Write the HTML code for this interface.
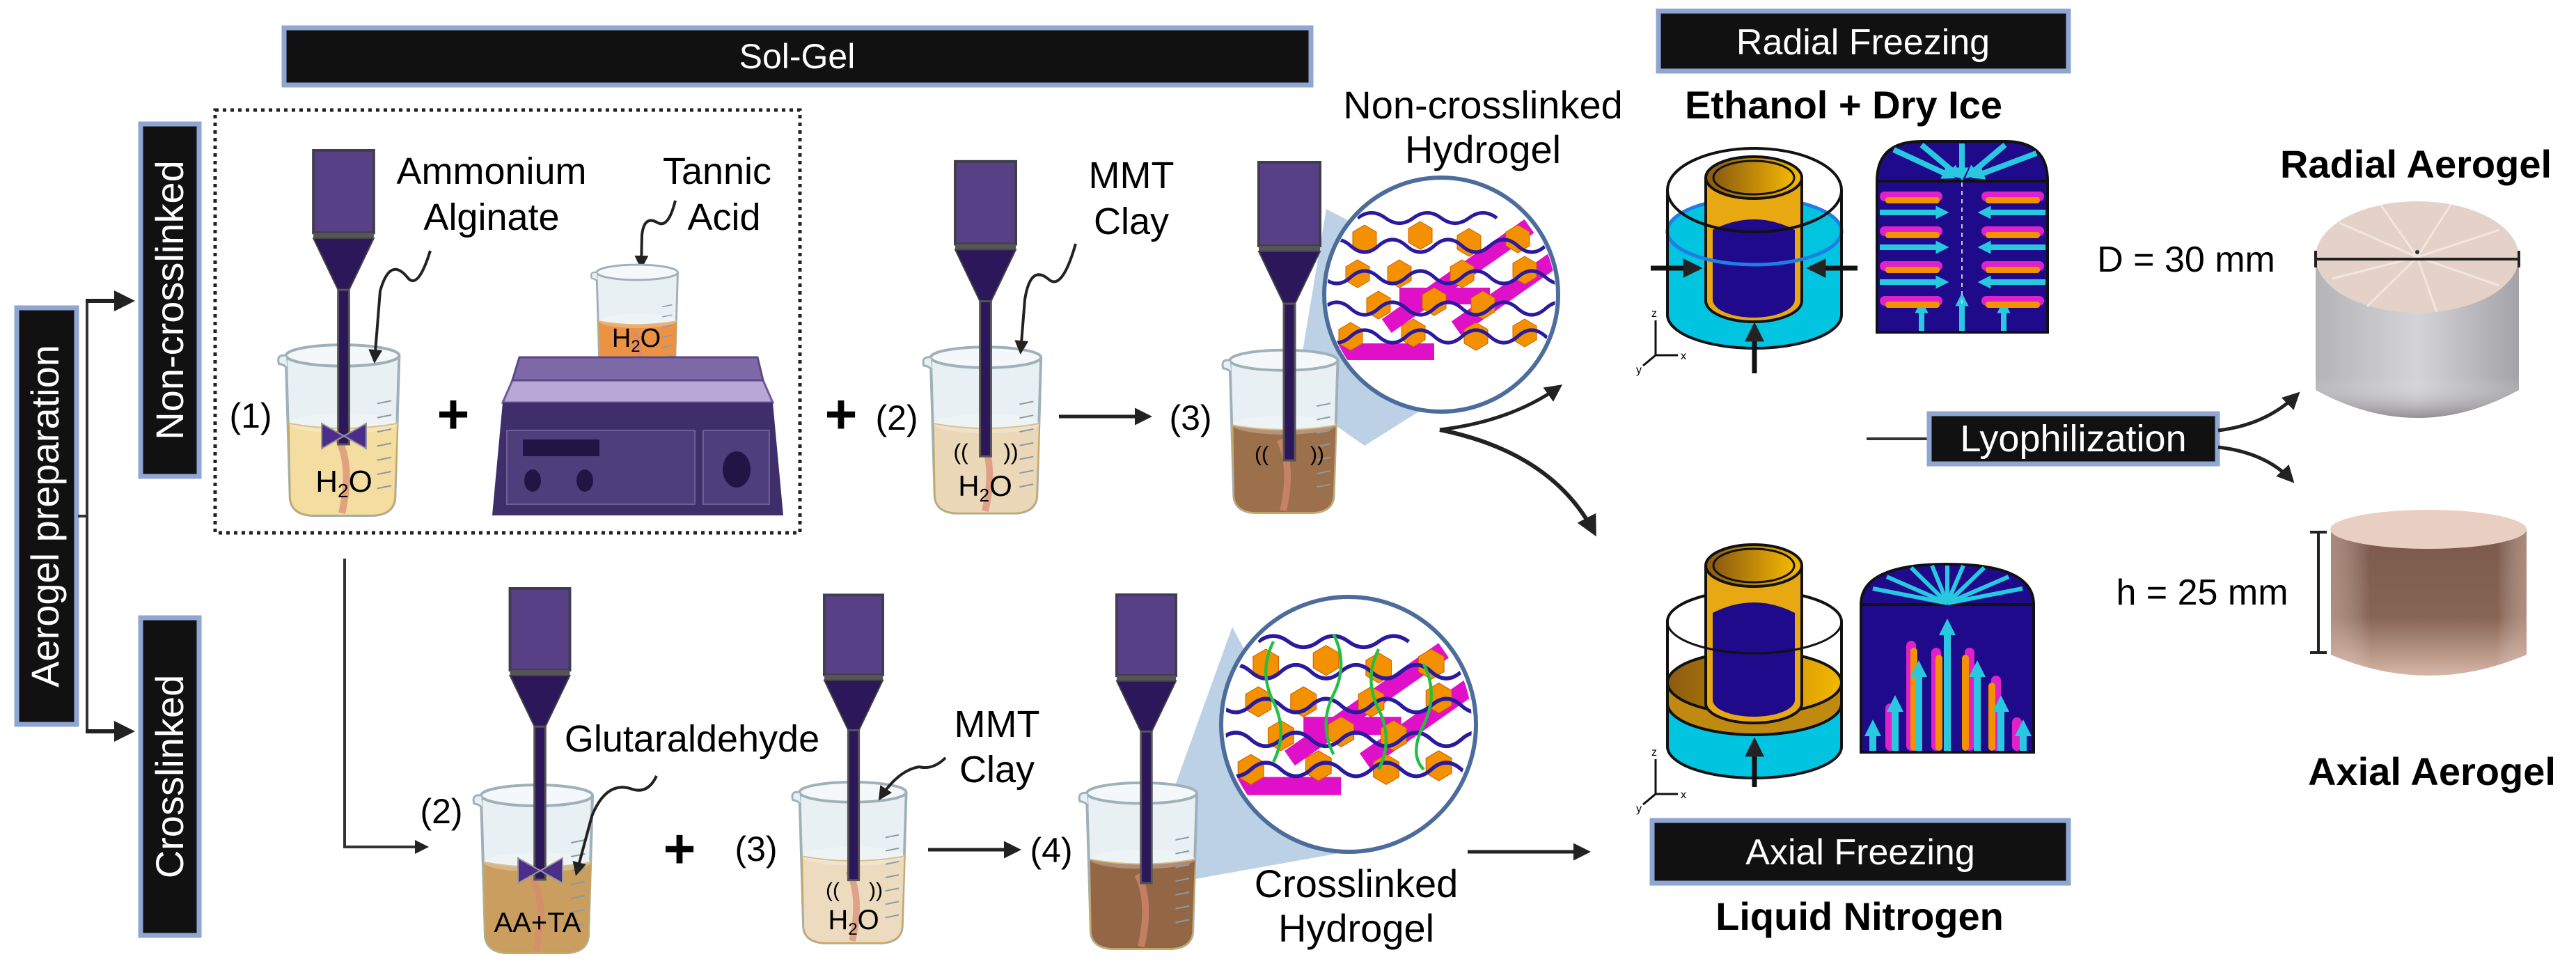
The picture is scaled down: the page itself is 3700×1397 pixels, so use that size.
<!DOCTYPE html>
<html><head><meta charset="utf-8"><style>
html,body{margin:0;padding:0;background:#fff}
svg{display:block}
text{font-family:"Liberation Sans",sans-serif}
</style></head><body>
<svg width="3700" height="1397" viewBox="0 0 3700 1397" xmlns="http://www.w3.org/2000/svg">
<defs>
<linearGradient id="gold" x1="0" x2="1"><stop offset="0" stop-color="#8a5a10"/><stop offset="1" stop-color="#f5b800"/></linearGradient>
<linearGradient id="gray" x1="0" x2="1"><stop offset="0" stop-color="#b4b4b8"/><stop offset=".5" stop-color="#d4d4d8"/><stop offset="1" stop-color="#a4a4a8"/></linearGradient>
<linearGradient id="grayv" x1="0" y1="0" x2="0" y2="1"><stop offset="0" stop-color="#fff" stop-opacity="0"/><stop offset=".75" stop-color="#fff" stop-opacity="0"/><stop offset="1" stop-color="#6a6264" stop-opacity=".6"/></linearGradient>
<linearGradient id="brn" x1="0" y1="0" x2="0" y2="1"><stop offset="0" stop-color="#7a5a4c"/><stop offset=".6" stop-color="#876454"/><stop offset="1" stop-color="#d6b6a6"/></linearGradient>
<linearGradient id="brnh" x1="0" x2="1"><stop offset="0" stop-color="#d8b8a8" stop-opacity=".5"/><stop offset=".2" stop-color="#fff" stop-opacity="0"/><stop offset=".85" stop-color="#fff" stop-opacity="0"/><stop offset="1" stop-color="#d8b8a8" stop-opacity=".5"/></linearGradient>
<symbol id="bk" viewBox="0 0 190 250" overflow="visible">
 <path d="M16,24 L22,224 Q24,246 52,248 L140,248 Q168,246 170,224 L176,24 Z" fill="#e8f0f3" stroke="#9fb0b8" stroke-width="4"/>
 <path d="M20,118 Q96,132 174,118 L170,224 Q168,246 140,248 L52,248 Q24,246 22,224 Z" fill="currentColor" stroke="#c9a860" stroke-width="2" opacity=".95"/>
 <ellipse cx="97" cy="118" rx="77" ry="14" fill="#fff" opacity=".25"/>
 <ellipse cx="96" cy="22" rx="80" ry="15" fill="#f4f8fa" stroke="#9fb0b8" stroke-width="4"/>
 <path d="M16,22 Q2,20 6,34 Q12,34 18,40" fill="#e8f0f3" stroke="#9fb0b8" stroke-width="3"/>
 <g stroke="#8a9aa3" stroke-width="2"><line x1="145" y1="90" x2="165" y2="86"/><line x1="145" y1="110" x2="165" y2="106"/><line x1="145" y1="130" x2="165" y2="126"/><line x1="145" y1="150" x2="165" y2="146"/><line x1="145" y1="170" x2="165" y2="166"/><line x1="145" y1="190" x2="165" y2="186"/><line x1="145" y1="210" x2="165" y2="206"/></g>
 <path d="M90,140 Q110,180 95,245" stroke="#d88a70" stroke-width="10" fill="none" opacity=".7"/>
</symbol>
<symbol id="st" viewBox="0 0 92 430" overflow="visible">
 <rect x="2" y="2" width="88" height="120" fill="#574086" stroke="#3e3e4e" stroke-width="4"/>
 <rect x="2" y="122" width="88" height="8" fill="#555"/>
 <polygon points="2,130 90,130 54,205 38,205" fill="#2b1759" stroke="#444" stroke-width="2"/>
 <rect x="38" y="205" width="16" height="225" fill="#2b1759" stroke="#555" stroke-width="3"/>
</symbol>
<polygon id="hx" points="0,-20 17,-10 17,10 0,20 -17,10 -17,-10" fill="#f39100" stroke="#d06000" stroke-width="1"/>
<clipPath id="c1"><circle cx="0" cy="0" r="164"/></clipPath>
<g id="gel">
 <g clip-path="url(#c1)">
 <rect x="-150" y="70" width="140" height="24" fill="#e010c8"/>
 <rect x="-60" y="-10" width="130" height="24" fill="#e010c8"/>
 <rect x="-90" y="-20" width="250" height="24" fill="#e010c8" transform="rotate(-35)"/>
 <rect x="-10" y="40" width="230" height="24" fill="#e010c8" transform="rotate(-35)"/>
 <use href="#hx" x="-110" y="-80"/><use href="#hx" x="-30" y="-85"/><use href="#hx" x="40" y="-75"/><use href="#hx" x="110" y="-80"/>
 <use href="#hx" x="-120" y="-30"/><use href="#hx" x="-60" y="-30"/><use href="#hx" x="30" y="-30"/><use href="#hx" x="120" y="-35"/>
 <use href="#hx" x="-90" y="15"/><use href="#hx" x="-10" y="10"/><use href="#hx" x="60" y="15"/>
 <use href="#hx" x="-130" y="60"/><use href="#hx" x="-40" y="55"/><use href="#hx" x="50" y="60"/><use href="#hx" x="120" y="55"/>
 <g stroke="#2a1aa0" stroke-width="5" fill="none">
 <path d="M-170,-70 q20,-18 40,0 t40,0 t40,0 t40,0 t40,0 t40,0 t40,0 t40,0 t40,0"/>
 <path d="M-170,-25 q20,18 40,0 t40,0 t40,0 t40,0 t40,0 t40,0 t40,0 t40,0 t40,0"/>
 <path d="M-170,20 q20,-18 40,0 t40,0 t40,0 t40,0 t40,0 t40,0 t40,0 t40,0 t40,0"/>
 <path d="M-170,60 q20,18 40,0 t40,0 t40,0 t40,0 t40,0 t40,0 t40,0 t40,0 t40,0"/>
 <path d="M-120,-110 q20,-15 40,0 t40,0 t40,0 t40,0 t40,0"/>
 </g>
 </g>
</g>
<marker id="ah" viewBox="0 0 10 10" refX="8" refY="5" markerWidth="5" markerHeight="5" orient="auto"><path d="M0,0 L10,5 L0,10 Z" fill="#222"/></marker>
<marker id="ah2" viewBox="0 0 10 10" refX="8" refY="5" markerWidth="4" markerHeight="4" orient="auto"><path d="M0,0 L10,5 L0,10 Z" fill="#222"/></marker>
<marker id="ca" viewBox="0 0 10 10" refX="5" refY="5" markerWidth="2.4" markerHeight="2.4" orient="auto"><path d="M0,0 L10,5 L0,10 Z" fill="#28c8e0"/></marker>
</defs>

<!-- Sol-Gel bar -->
<rect x="408" y="40" width="1475" height="82" fill="#111" stroke="#8fa6d2" stroke-width="7"/>
<text x="1145" y="98" font-size="50" fill="#fff" text-anchor="middle">Sol-Gel</text>

<!-- left bracket boxes -->
<rect x="24" y="442" width="86" height="598" fill="#111" stroke="#8fa6d2" stroke-width="7"/>
<text transform="translate(84,741) rotate(-90)" font-size="56" fill="#fff" text-anchor="middle">Aerogel preparation</text>
<rect x="202" y="178" width="84" height="506" fill="#111" stroke="#8fa6d2" stroke-width="7"/>
<text transform="translate(263,431) rotate(-90)" font-size="56" fill="#fff" text-anchor="middle">Non-crosslinked</text>
<rect x="202" y="887" width="84" height="456" fill="#111" stroke="#8fa6d2" stroke-width="7"/>
<text transform="translate(263,1115) rotate(-90)" font-size="56" fill="#fff" text-anchor="middle">Crosslinked</text>
<path d="M112,741 H125 M125,432 V1050" stroke="#333" stroke-width="4" fill="none"/>
<line x1="123" y1="432" x2="188" y2="432" stroke="#222" stroke-width="6" marker-end="url(#ah)"/>
<line x1="123" y1="1050" x2="188" y2="1050" stroke="#222" stroke-width="6" marker-end="url(#ah)"/>

<!-- dotted box -->
<rect x="309" y="158" width="840" height="607" fill="none" stroke="#222" stroke-width="5" stroke-dasharray="5,6"/>

<!-- beaker 1 -->
<use href="#bk" x="394" y="488" width="194" height="254" style="color:#f5dd9c"/>
<use href="#st" x="448" y="214" width="91" height="424"/>
<polygon points="462,608 494,626 462,644" fill="#4a2e8a" stroke="#999" stroke-width="2"/><polygon points="526,608 494,626 526,644" fill="#4a2e8a" stroke="#999" stroke-width="2"/>
<text x="494" y="706" font-size="44" text-anchor="middle">H<tspan font-size="28" dy="8">2</tspan><tspan dy="-8">O</tspan></text>
<text x="360" y="614" font-size="50" text-anchor="middle">(1)</text>
<text x="706" y="264" font-size="54" text-anchor="middle">Ammonium</text>
<text x="706" y="330" font-size="54" text-anchor="middle">Alginate</text>
<path d="M618,360 Q600,418 585,398 Q560,368 546,418 L538,518" stroke="#222" stroke-width="4" fill="none" marker-end="url(#ah)"/>
<text x="1030" y="264" font-size="54" text-anchor="middle">Tannic</text>
<text x="1040" y="330" font-size="54" text-anchor="middle">Acid</text>
<path d="M970,288 Q960,328 945,320 Q925,308 922,338 L921,383" stroke="#222" stroke-width="4" fill="none" marker-end="url(#ah)"/>

<!-- hotplate -->
<use href="#bk" x="845" y="375" width="139" height="182" style="color:#ec8e3c"/>
<text x="914" y="498" font-size="38" text-anchor="middle">H<tspan font-size="24" dy="7">2</tspan><tspan dy="-7">O</tspan></text>
<polygon points="736,546 1096,546 1110,578 722,578" fill="#b8a8d8" stroke="#6d5a98" stroke-width="3"/>
<polygon points="746,513 1088,513 1096,546 736,546" fill="#7f6aa8" stroke="#5b4888" stroke-width="3"/>
<polygon points="722,578 1110,578 1125,740 707,740" fill="#3e2f6a"/>
<rect x="728" y="618" width="270" height="106" fill="#4e3f7c" stroke="#6d5e98" stroke-width="2"/>
<rect x="1010" y="618" width="95" height="106" fill="#4e3f7c" stroke="#6d5e98" stroke-width="2"/>
<rect x="751" y="631" width="110" height="24" fill="#221545"/>
<ellipse cx="765" cy="690" rx="12" ry="16" fill="#221545"/><ellipse cx="840" cy="690" rx="12" ry="16" fill="#221545"/>
<ellipse cx="1058" cy="674" rx="20" ry="26" fill="#221545"/>
<text x="651" y="622" font-size="80" font-weight="bold" text-anchor="middle">+</text>
<text x="1208" y="622" font-size="80" font-weight="bold" text-anchor="middle">+</text>

<!-- beaker top 2 -->
<use href="#bk" x="1321" y="491" width="188" height="248" style="color:#ecd7b6"/>
<use href="#st" x="1370" y="225" width="91" height="435"/>
<text x="1415" y="712" font-size="42" text-anchor="middle">H<tspan font-size="26" dy="8">2</tspan><tspan dy="-8">O</tspan></text>
<text x="1380" y="660" font-size="32" text-anchor="middle">((</text><text x="1452" y="660" font-size="32" text-anchor="middle">))</text>
<text x="1288" y="617" font-size="50" text-anchor="middle">(2)</text>
<text x="1625" y="270" font-size="54" text-anchor="middle">MMT</text>
<text x="1625" y="336" font-size="54" text-anchor="middle">Clay</text>
<path d="M1545,350 Q1525,420 1505,400 Q1480,380 1472,430 L1466,505" stroke="#222" stroke-width="4" fill="none" marker-end="url(#ah)"/>
<line x1="1521" y1="598" x2="1650" y2="598" stroke="#222" stroke-width="5" marker-end="url(#ah)"/>
<text x="1710" y="617" font-size="50" text-anchor="middle">(3)</text>

<!-- beaker top 3 -->
<polygon points="1860,570 1905,300 2230,470 1960,640" fill="#a6c2dc" opacity=".75"/>
<use href="#bk" x="1751" y="495" width="184" height="244" style="color:#9a6a44"/>
<use href="#st" x="1806" y="225" width="92" height="442"/>
<text x="1812" y="662" font-size="30" text-anchor="middle">((</text><text x="1892" y="662" font-size="30" text-anchor="middle">))</text>
<circle cx="2070" cy="423" r="168" fill="#fff" stroke="#4c6c9c" stroke-width="6"/>
<use href="#gel" transform="translate(2070,423)"/>
<text x="2130" y="170" font-size="56" text-anchor="middle">Non-crosslinked</text>
<text x="2130" y="234" font-size="56" text-anchor="middle">Hydrogel</text>
<path d="M2068,617 Q2170,605 2240,555" stroke="#222" stroke-width="5" fill="none" marker-end="url(#ah)"/>
<path d="M2068,617 Q2230,650 2290,765" stroke="#222" stroke-width="6" fill="none" marker-end="url(#ah)"/>

<!-- bottom row -->
<path d="M495,802 V1216 H612" stroke="#333" stroke-width="4" fill="none" marker-end="url(#ah)"/>
<use href="#bk" x="673" y="1120" width="194" height="250" style="color:#c99a58"/>
<use href="#st" x="730" y="843" width="91" height="420"/>
<polygon points="744,1232 776,1250 744,1268" fill="#4a2e8a" stroke="#999" stroke-width="2"/><polygon points="808,1232 776,1250 808,1268" fill="#4a2e8a" stroke="#999" stroke-width="2"/>
<text x="772" y="1338" font-size="40" text-anchor="middle">AA+TA</text>
<text x="634" y="1182" font-size="50" text-anchor="middle">(2)</text>
<text x="994" y="1079" font-size="54" text-anchor="middle">Glutaraldehyde</text>
<path d="M943,1114 Q930,1142 905,1132 Q870,1122 850,1172 L828,1254" stroke="#222" stroke-width="4" fill="none" marker-end="url(#ah)"/>
<text x="976" y="1246" font-size="80" font-weight="bold" text-anchor="middle">+</text>
<text x="1086" y="1236" font-size="50" text-anchor="middle">(3)</text>
<use href="#bk" x="1133" y="1110" width="182" height="252" style="color:#eddabc"/>
<use href="#st" x="1182" y="843" width="88" height="430"/>
<text x="1226" y="1334" font-size="40" text-anchor="middle">H<tspan font-size="24" dy="8">2</tspan><tspan dy="-8">O</tspan></text>
<text x="1196" y="1288" font-size="30" text-anchor="middle">((</text><text x="1258" y="1288" font-size="30" text-anchor="middle">))</text>
<text x="1432" y="1058" font-size="54" text-anchor="middle">MMT</text>
<text x="1432" y="1123" font-size="54" text-anchor="middle">Clay</text>
<path d="M1358,1088 Q1340,1106 1320,1101 Q1290,1106 1264,1146" stroke="#222" stroke-width="4" fill="none" marker-end="url(#ah)"/>
<line x1="1333" y1="1220" x2="1462" y2="1220" stroke="#222" stroke-width="5" marker-end="url(#ah)"/>
<text x="1510" y="1238" font-size="50" text-anchor="middle">(4)</text>
<polygon points="1660,1205 1770,900 1940,1222 1700,1265" fill="#a6c2dc" opacity=".75"/>
<use href="#bk" x="1545" y="1117" width="188" height="247" style="color:#8f5f3c"/>
<use href="#st" x="1602" y="845" width="89" height="430"/>
<circle cx="1937" cy="1040" r="183" fill="#fff" stroke="#4c6c9c" stroke-width="6"/>
<g transform="translate(1937,1040) scale(1.08)">
<use href="#gel"/>
<g stroke="#22c040" stroke-width="4" fill="none"><path d="M-100,-110 q-20,40 0,80 t0,80"/><path d="M-20,-120 q20,40 0,80 t0,80"/><path d="M40,-100 q-20,40 0,80 t0,80"/><path d="M100,-80 q20,40 0,80 t0,60"/></g>
</g>
<text x="1948" y="1288" font-size="56" text-anchor="middle">Crosslinked</text>
<text x="1948" y="1352" font-size="56" text-anchor="middle">Hydrogel</text>
<line x1="2108" y1="1223" x2="2280" y2="1223" stroke="#222" stroke-width="5" marker-end="url(#ah)"/>

<!-- Radial freezing -->
<rect x="2382" y="16" width="589" height="86" fill="#111" stroke="#8fa6d2" stroke-width="7"/>
<text x="2676" y="78" font-size="52" fill="#fff" text-anchor="middle">Radial Freezing</text>
<text x="2648" y="170" font-size="56" font-weight="bold" text-anchor="middle">Ethanol + Dry Ice</text>
<g stroke="#111" stroke-width="4">
<path d="M2395,332 V452 A125,48 0 0 0 2645,452 V332 A125,48 0 0 1 2395,332 Z" fill="#00c4e0" stroke="none"/>
<ellipse cx="2520" cy="332" rx="125" ry="48" fill="#00c4e0" stroke="#1f7fe0" stroke-width="5"/>
<path d="M2450,255 V432 A69,30 0 0 0 2588,432 V255" fill="#e8a812"/>
<ellipse cx="2519" cy="255" rx="69" ry="30" fill="url(#gold)"/>
<ellipse cx="2519" cy="255" rx="58" ry="24" fill="url(#gold)" stroke-width="3"/>
<path d="M2460,330 Q2519,300 2578,330 V430 A59,26 0 0 1 2460,430 Z" fill="#1e0a8a" stroke="none"/>
<path d="M2395,332 A125,48 0 0 0 2645,332" fill="none" stroke="#1f7fe0" stroke-width="5"/>
<ellipse cx="2520" cy="273" rx="125" ry="60" fill="none"/>
<line x1="2395" y1="273" x2="2395" y2="452" fill="none"/><line x1="2645" y1="273" x2="2645" y2="452" fill="none"/>
<path d="M2395,452 A125,48 0 0 0 2645,452" fill="none"/>
</g>
<line x1="2371" y1="385" x2="2440" y2="385" stroke="#111" stroke-width="7" marker-end="url(#ah2)"/>
<line x1="2668" y1="385" x2="2600" y2="385" stroke="#111" stroke-width="7" marker-end="url(#ah2)"/>
<line x1="2520" y1="536" x2="2520" y2="468" stroke="#111" stroke-width="7" marker-end="url(#ah2)"/>
<g stroke="#111" stroke-width="3" fill="none"><path d="M2378,510 V460 M2378,510 H2410 M2378,510 L2360,525"/></g>
<text x="2372" y="455" font-size="16">z</text><text x="2414" y="516" font-size="16">x</text><text x="2350" y="536" font-size="16">y</text>
<!-- radial section -->
<path d="M2696,477 V260 Q2696,203 2760,203 H2880 Q2941,203 2941,260 V477 Z" fill="#1e0a8a" stroke="#111" stroke-width="4"/>
<line x1="2696" y1="260" x2="2941" y2="260" stroke="#111" stroke-width="4"/>
<g stroke="#28c8e0" stroke-width="8" marker-end="url(#ca)">
<line x1="2720" y1="215" x2="2800" y2="252"/><line x1="2760" y1="208" x2="2810" y2="250"/><line x1="2818" y1="206" x2="2818" y2="250"/><line x1="2880" y1="208" x2="2830" y2="250"/><line x1="2925" y1="220" x2="2840" y2="252"/>
<line x1="2700" y1="305" x2="2790" y2="305"/><line x1="2700" y1="355" x2="2790" y2="355"/><line x1="2700" y1="405" x2="2790" y2="405"/>
<line x1="2938" y1="305" x2="2850" y2="305"/><line x1="2938" y1="355" x2="2850" y2="355"/><line x1="2938" y1="405" x2="2850" y2="405"/>
<line x1="2760" y1="475" x2="2760" y2="440"/><line x1="2818" y1="475" x2="2818" y2="430"/><line x1="2878" y1="475" x2="2878" y2="440"/>
</g>
<line x1="2818" y1="262" x2="2818" y2="440" stroke="#ccc" stroke-width="2" stroke-dasharray="6,6"/>
<g fill="#e020c8"><rect x="2700" y="275" width="90" height="14" rx="7"/><rect x="2700" y="325" width="90" height="14" rx="7"/><rect x="2700" y="375" width="90" height="14" rx="7"/><rect x="2700" y="425" width="90" height="14" rx="7"/>
<rect x="2846" y="275" width="90" height="14" rx="7"/><rect x="2846" y="325" width="90" height="14" rx="7"/><rect x="2846" y="375" width="90" height="14" rx="7"/><rect x="2846" y="425" width="90" height="14" rx="7"/></g>
<g fill="#f39100"><rect x="2708" y="283" width="78" height="9" rx="4"/><rect x="2708" y="333" width="78" height="9" rx="4"/><rect x="2708" y="383" width="78" height="9" rx="4"/><rect x="2708" y="433" width="78" height="9" rx="4"/>
<rect x="2852" y="283" width="78" height="9" rx="4"/><rect x="2852" y="333" width="78" height="9" rx="4"/><rect x="2852" y="383" width="78" height="9" rx="4"/><rect x="2852" y="433" width="78" height="9" rx="4"/></g>

<!-- Lyophilization -->
<line x1="2681" y1="630" x2="2772" y2="630" stroke="#333" stroke-width="4"/>
<rect x="2771" y="594" width="414" height="72" fill="#111" stroke="#8fa6d2" stroke-width="7"/>
<text x="2978" y="648" font-size="54" fill="#fff" text-anchor="middle">Lyophilization</text>
<path d="M3186,618 Q3255,610 3300,566" stroke="#222" stroke-width="5" fill="none" marker-end="url(#ah)"/>
<path d="M3186,642 Q3255,650 3292,690" stroke="#222" stroke-width="5" fill="none" marker-end="url(#ah)"/>

<!-- Axial freezing -->
<g stroke="#111" stroke-width="4">
<path d="M2395,1010 V1072 A125,45 0 0 0 2645,1072 V1010 Z" fill="#00c4e0"/>
<path d="M2395,980 V1010 A125,45 0 0 0 2645,1010 V980 Z" fill="#c08a10"/>
<ellipse cx="2520" cy="980" rx="125" ry="45" fill="url(#gold)"/>
<path d="M2450,812 V1010 A69,28 0 0 0 2588,1010 V812" fill="#e8a812"/>
<ellipse cx="2519" cy="812" rx="69" ry="30" fill="url(#gold)"/>
<ellipse cx="2519" cy="812" rx="58" ry="24" fill="url(#gold)" stroke-width="3"/>
<path d="M2460,880 Q2519,850 2578,880 V1005 A59,24 0 0 1 2460,1005 Z" fill="#1e0a8a" stroke="none"/>
<path d="M2395,893 A125,45 0 0 1 2450,855 M2588,855 A125,45 0 0 1 2645,893 M2395,893 V980 M2645,893 V980" fill="none"/>
<path d="M2395,893 A125,45 0 0 0 2645,893" fill="none" stroke-width="3"/>
</g>
<line x1="2520" y1="1130" x2="2520" y2="1064" stroke="#111" stroke-width="7" marker-end="url(#ah2)"/>
<g stroke="#111" stroke-width="3" fill="none"><path d="M2378,1140 V1090 M2378,1140 H2410 M2378,1140 L2360,1155"/></g>
<text x="2372" y="1085" font-size="16">z</text><text x="2414" y="1146" font-size="16">x</text><text x="2350" y="1166" font-size="16">y</text>
<path d="M2673,1080 V868 Q2673,810 2797,810 Q2921,810 2921,868 V1080 Z" fill="#1e0a8a" stroke="#111" stroke-width="4"/>
<line x1="2673" y1="868" x2="2921" y2="868" stroke="#111" stroke-width="4"/>
<g stroke="#28c8e0" stroke-width="6"><line x1="2797" y1="866" x2="2690" y2="845"/><line x1="2797" y1="866" x2="2710" y2="828"/><line x1="2797" y1="866" x2="2745" y2="815"/><line x1="2797" y1="866" x2="2775" y2="812"/><line x1="2797" y1="866" x2="2797" y2="812"/><line x1="2797" y1="866" x2="2820" y2="812"/><line x1="2797" y1="866" x2="2850" y2="815"/><line x1="2797" y1="866" x2="2885" y2="828"/><line x1="2797" y1="866" x2="2905" y2="845"/></g>
<g fill="#e020c8"><rect x="2738" y="920" width="14" height="158" rx="7"/><rect x="2774" y="930" width="14" height="148" rx="7"/><rect x="2822" y="930" width="14" height="148" rx="7"/><rect x="2860" y="970" width="14" height="108" rx="7"/><rect x="2708" y="1010" width="14" height="68" rx="7"/><rect x="2890" y="1030" width="14" height="48" rx="7"/></g>
<g fill="#f39100"><rect x="2744" y="930" width="10" height="148" rx="5"/><rect x="2780" y="940" width="10" height="138" rx="5"/><rect x="2818" y="940" width="10" height="138" rx="5"/><rect x="2856" y="980" width="10" height="98" rx="5"/></g>
<g stroke="#28c8e0" stroke-width="10" marker-end="url(#ca)"><line x1="2797" y1="1078" x2="2797" y2="900"/><line x1="2756" y1="1078" x2="2756" y2="960"/><line x1="2840" y1="1078" x2="2840" y2="960"/><line x1="2722" y1="1078" x2="2722" y2="1010"/><line x1="2874" y1="1078" x2="2874" y2="1010"/><line x1="2690" y1="1078" x2="2690" y2="1045"/><line x1="2906" y1="1078" x2="2906" y2="1045"/></g>
<rect x="2373" y="1178" width="598" height="90" fill="#111" stroke="#8fa6d2" stroke-width="7"/>
<text x="2672" y="1241" font-size="52" fill="#fff" text-anchor="middle">Axial Freezing</text>
<text x="2671" y="1335" font-size="56" font-weight="bold" text-anchor="middle">Liquid Nitrogen</text>

<!-- photos -->
<text x="3470" y="255" font-size="56" font-weight="bold" text-anchor="middle">Radial Aerogel</text>
<path d="M3326,369 V560 Q3472,640 3618,560 V369 Z" fill="url(#gray)"/>
<path d="M3326,369 V560 Q3472,640 3618,560 V369 Z" fill="url(#grayv)"/>
<ellipse cx="3472" cy="369" rx="146" ry="80" fill="#e4d2c8"/>
<g stroke="#f6ece6" stroke-width="3" opacity=".8"><line x1="3472" y1="369" x2="3360" y2="320"/><line x1="3472" y1="369" x2="3420" y2="295"/><line x1="3472" y1="369" x2="3520" y2="294"/><line x1="3472" y1="369" x2="3590" y2="330"/><line x1="3472" y1="369" x2="3590" y2="410"/><line x1="3472" y1="369" x2="3500" y2="448"/><line x1="3472" y1="369" x2="3400" y2="440"/><line x1="3472" y1="369" x2="3350" y2="400"/></g>
<circle cx="3472" cy="362" r="3" fill="#333"/>
<line x1="3326" y1="372" x2="3618" y2="372" stroke="#222" stroke-width="4"/>
<line x1="3326" y1="360" x2="3326" y2="384" stroke="#222" stroke-width="4"/><line x1="3618" y1="360" x2="3618" y2="384" stroke="#222" stroke-width="4"/>
<text x="3140" y="390" font-size="52" text-anchor="middle">D = 30 mm</text>
<path d="M3348,760 V940 Q3488,1000 3629,940 V760 Z" fill="url(#brn)"/>
<path d="M3348,760 V940 Q3488,1000 3629,940 V760 Z" fill="url(#brnh)"/>
<ellipse cx="3488" cy="760" rx="141" ry="28" fill="#e9cfc2"/>
<path d="M3330,764 V937 M3318,764 H3342 M3318,937 H3342" stroke="#222" stroke-width="4"/>
<text x="3163" y="868" font-size="52" text-anchor="middle">h = 25 mm</text>
<text x="3493" y="1127" font-size="56" font-weight="bold" text-anchor="middle">Axial Aerogel</text>
</svg>
</body></html>
